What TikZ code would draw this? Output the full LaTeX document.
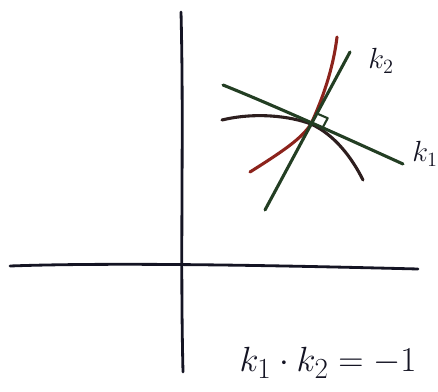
\documentclass[tikz,border=0pt]{standalone}
\usepackage{amsmath, amssymb}
\usetikzlibrary{positioning}

\definecolor{kgreen}{RGB}{35,62,35}
\definecolor{kred}{RGB}{140,35,28}
\definecolor{kdark}{RGB}{45,30,30}
\definecolor{ink}{RGB}{20,20,35}

\begin{document}
\begin{tikzpicture}[x=0.025cm, y=-0.025cm, line cap=round, line join=round,
    axis/.style={line width=2pt, ink},
    curveline/.style={line width=2.2pt},
    label/.style={ink, font=\huge, inner sep=0pt}]
  \useasboundingbox (0,0) rectangle (438,392);
  % axes
  \coordinate (ytop) at (181,12);
  \coordinate (ybot) at (183,372);
  \coordinate (xl) at (10,266);
  \coordinate (xr) at (418,269);
  \draw[axis] (ytop) .. controls (184,130) and (180,250) .. (ybot);
  \draw[axis] (xl) .. controls (120,262) and (300,266) .. (xr);
  % the curves
  \coordinate (P) at (311,124);
  \coordinate (r0) at (250,172);
  \coordinate (r1) at (337,37);
  \coordinate (c0) at (222,120);
  \coordinate (c1) at (363,180);
  \draw[curveline, kred] (r0) .. controls (285,150) and (302,138) .. (P)
    .. controls (322,100) and (333,70) .. (r1);
  \draw[curveline, kdark] (c0) .. controls (255,112) and (290,116) .. (P)
    .. controls (335,135) and (352,158) .. (c1);
  % the tangents
  \coordinate (t0) at (223,85);
  \coordinate (t1) at (403,164);
  \coordinate (n0) at (265,210);
  \coordinate (n1) at (350,52);
  \draw[curveline, kgreen] (t0) .. controls (280,108) and (350,140) .. (t1);
  \draw[curveline, kgreen] (n0) -- (n1);
  % right angle
  \draw[line width=1.5pt, kgreen] (P) ++(5.7,-10.6) -- ++(11,4.8) -- ++(-5.7,10.6);
  % labels
  \node[label] (k2) at (381,61) {$k_2$};
  \node[label] (k1) at (425,154) {$k_1$};
  \node[label, font=\Huge] (eq) at (328,363) {$k_1\cdot k_2=-1$};
\end{tikzpicture}
\end{document}
